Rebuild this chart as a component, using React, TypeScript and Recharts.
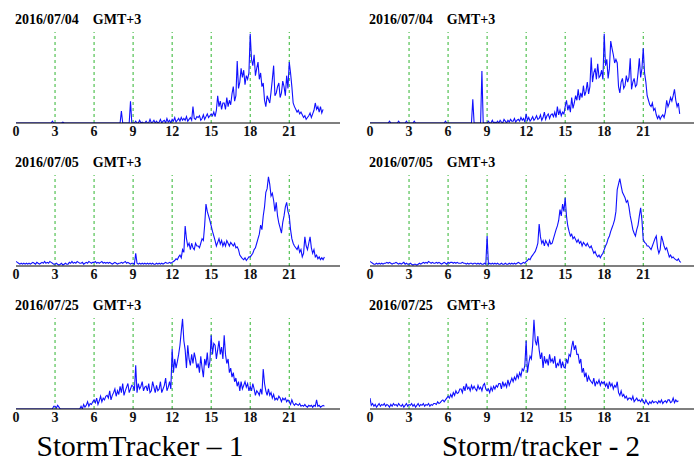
import { LineChart, Line, XAxis, YAxis, ReferenceLine } from "recharts";

// one sample every 0.1 h (6 min), values in % of panel height
const HOUR_TICKS = [0, 3, 6, 9, 12, 15, 18, 21];
const GRID_HOURS = [3, 6, 9, 12, 15, 18, 21];

const st1Jul04 = [
  0, 0, 0, 0, 0, 0, 0, 0, 0, 0, 0, 0, 0, 0, 0, 0, 0, 0, 0, 0,
  0, 0, 0, 0, 0, 0, 0, 0, 2, 0, 0, 0, 0, 0, 0, 0, 1, 0, 0, 0,
  0, 0, 0, 0, 0, 0, 0, 0, 0, 0, 0, 0, 0, 0, 0, 0, 0, 0, 0, 0,
  0, 0, 0, 0, 0, 0, 0, 0, 0, 0, 0, 0, 0, 0, 0, 0, 0, 0, 0, 0,
  0, 13, 0, 0, 0, 0, 0, 0, 24, 0, 0, 0, 2, 0, 0, 3, 0, 1, 0, 0,
  2, 0, 0, 4, 0, 1, 3, 0, 2, 0, 1, 4, 0, 2, 3, 0, 5, 1, 3, 0,
  4, 2, 6, 1, 3, 5, 2, 6, 3, 5, 3, 7, 2, 4, 6, 3, 18, 5, 4, 7,
  6, 8, 3, 5, 9, 4, 7, 10, 6, 8, 10, 8, 12, 7, 14, 30, 18, 24, 15, 22,
  22, 15, 28, 18, 25, 20, 32, 40, 24, 30, 68, 38, 45, 60, 50, 58, 42, 52, 48, 55,
  98, 70, 63, 75, 52, 60, 67, 48, 55, 40, 44, 25, 18, 30, 26, 22, 34, 48, 63, 30,
  33, 40, 44, 28, 33, 46, 40, 30, 52, 38, 67, 55, 40, 22, 18, 15, 12, 14, 10, 12,
  9, 6, 8, 4, 6, 8, 11, 6, 10, 14, 22, 15, 18, 12, 18, 11, 15,
];
const st2Jul04 = [
  0, 0, 0, 0, 0, 0, 0, 0, 0, 0, 0, 0, 0, 0, 0, 2, 0, 0, 0, 0,
  0, 0, 2, 0, 0, 0, 0, 0, 2, 0, 0, 0, 0, 0, 2, 0, 0, 0, 0, 0,
  0, 0, 0, 0, 0, 0, 0, 0, 0, 0, 0, 0, 0, 0, 0, 0, 0, 0, 2, 0,
  0, 0, 0, 0, 0, 0, 0, 0, 0, 0, 0, 0, 0, 0, 0, 0, 0, 0, 0, 26,
  0, 0, 0, 0, 0, 0, 57, 0, 0, 0, 0, 2, 0, 0, 3, 0, 1, 0, 2, 0,
  3, 1, 0, 4, 2, 0, 3, 1, 4, 2, 2, 5, 1, 3, 4, 2, 6, 3, 5, 1,
  10, 3, 6, 2, 4, 7, 3, 5, 8, 4, 5, 9, 3, 6, 12, 4, 8, 10, 5, 9,
  10, 7, 12, 6, 18, 9, 14, 8, 12, 10, 18, 25, 14, 20, 12, 28, 16, 22, 30, 25,
  37, 25, 33, 28, 41, 30, 35, 45, 32, 40, 72, 45, 55, 60, 48, 65, 50, 52, 58, 48,
  98, 63, 70, 49, 60, 90, 82, 75, 66, 70, 66, 40, 33, 45, 49, 38, 41, 52, 45, 50,
  71, 37, 45, 49, 40, 42, 55, 71, 50, 60, 82, 55, 45, 30, 25, 20, 18, 22, 14, 16,
  9, 5, 8, 4, 7, 9, 6, 12, 25, 18, 22, 28, 24, 30, 37, 25, 18, 22, 10,
];
const st1Jul05 = [
  5, 4, 3, 2, 3, 2, 3, 2, 3, 2, 3, 2, 3, 4, 3, 2, 4, 3, 2, 3,
  4, 3, 5, 3, 4, 3, 5, 4, 3, 2, 2, 3, 2, 1, 2, 3, 1, 2, 3, 2,
  2, 4, 3, 5, 3, 4, 3, 5, 4, 3, 3, 4, 2, 3, 4, 3, 5, 4, 3, 4,
  4, 5, 3, 4, 3, 4, 5, 3, 4, 3, 4, 3, 4, 3, 2, 3, 4, 3, 2, 3,
  3, 4, 3, 4, 5, 3, 4, 3, 2, 3, 3, 2, 14, 3, 2, 3, 2, 3, 2, 3,
  2, 3, 2, 3, 2, 3, 2, 2, 3, 2, 3, 2, 3, 2, 3, 4, 3, 3, 4, 3,
  4, 5, 6, 8, 7, 10, 12, 9, 18, 15, 44, 30, 22, 25, 18, 25, 20, 18, 25, 22,
  22, 20, 25, 30, 28, 45, 68, 60, 55, 50, 44, 38, 33, 28, 22, 26, 30, 24, 28, 22,
  26, 22, 28, 25, 22, 26, 24, 22, 25, 20, 21, 18, 12, 10, 8, 7, 9, 6, 8, 10,
  10, 12, 14, 18, 20, 25, 30, 35, 45, 40, 55, 65, 81, 85, 98, 90, 77, 80, 72, 60,
  70, 55, 47, 42, 36, 48, 55, 65, 70, 60, 55, 40, 30, 25, 22, 20, 18, 22, 15, 18,
  10, 14, 32, 22, 18, 25, 32, 20, 14, 18, 10, 12, 8, 10, 7, 9, 7, 10,
];
const st2Jul05 = [
  5, 4, 3, 2, 2, 3, 2, 3, 2, 3, 2, 3, 3, 4, 3, 4, 3, 2, 3, 3,
  4, 3, 2, 3, 2, 3, 4, 2, 3, 2, 2, 3, 2, 1, 2, 2, 1, 2, 3, 2,
  3, 4, 3, 4, 3, 5, 4, 3, 4, 3, 3, 4, 3, 4, 3, 2, 3, 4, 3, 2,
  4, 3, 4, 4, 3, 4, 3, 4, 3, 3, 3, 4, 3, 3, 2, 3, 2, 3, 3, 2,
  3, 3, 2, 3, 2, 3, 2, 2, 3, 2, 33, 2, 3, 2, 3, 2, 3, 2, 3, 2,
  2, 3, 2, 2, 3, 2, 2, 3, 2, 3, 2, 3, 2, 3, 4, 3, 2, 3, 4, 3,
  5, 6, 8, 7, 10, 12, 14, 16, 20, 25, 46, 32, 25, 28, 22, 28, 25, 22, 28, 24,
  25, 30, 35, 40, 44, 50, 62, 55, 68, 60, 75, 55, 44, 38, 33, 35, 30, 32, 29, 26,
  29, 25, 27, 22, 26, 24, 22, 25, 22, 20, 22, 18, 14, 16, 12, 10, 12, 9, 12, 14,
  18, 22, 25, 30, 33, 38, 42, 46, 51, 60, 84, 90, 96, 88, 81, 78, 75, 70, 72, 65,
  55, 48, 40, 36, 33, 40, 45, 55, 64, 50, 29, 26, 25, 22, 22, 20, 18, 22, 26, 30,
  33, 20, 14, 18, 33, 28, 22, 18, 20, 15, 10, 12, 9, 10, 8, 7, 6, 8, 5, 4,
];
const st1Jul25 = [
  0, 0, 0, 0, 0, 0, 0, 0, 0, 0, 0, 0, 0, 0, 0, 0, 0, 0, 0, 0,
  0, 0, 0, 0, 0, 0, 0, 0, 0, 3, 3, 1, 4, 2, 0, 0, 0, 0, 0, 0,
  0, 0, 0, 0, 0, 0, 0, 0, 0, 0, 3, 0, 5, 2, 4, 8, 3, 6, 5, 8,
  10, 7, 12, 5, 9, 14, 8, 12, 10, 14, 15, 12, 20, 10, 15, 18, 22, 14, 20, 16,
  25, 18, 28, 15, 20, 24, 28, 18, 22, 26, 25, 20, 48, 18, 28, 22, 25, 30, 20, 24,
  25, 20, 28, 18, 20, 30, 24, 18, 26, 20, 22, 30, 18, 22, 26, 34, 20, 24, 30, 22,
  66, 40, 55, 45, 52, 60, 70, 85, 99, 75, 65, 45, 70, 55, 48, 60, 50, 62, 55, 45,
  50, 40, 58, 45, 35, 55, 48, 62, 45, 52, 81, 60, 72, 70, 55, 65, 75, 60, 68, 55,
  81, 60, 50, 55, 40, 45, 35, 40, 30, 34, 25, 30, 20, 30, 22, 26, 30, 24, 28, 20,
  25, 20, 28, 22, 15, 20, 18, 15, 22, 16, 44, 28, 20, 15, 22, 15, 18, 12, 16, 10,
  12, 10, 14, 12, 8, 12, 10, 12, 8, 10, 8, 5, 10, 6, 4, 6, 5, 4, 6, 3,
  4, 3, 5, 3, 2, 4, 3, 4, 2, 4, 3, 10, 3, 4, 2, 3, 4, 3,
];
const st2Jul25 = [
  12, 4, 6, 3, 5, 2, 4, 6, 3, 5, 4, 6, 3, 5, 4, 2, 5, 3, 6, 4,
  5, 3, 6, 4, 3, 5, 2, 4, 6, 3, 5, 4, 6, 3, 5, 2, 4, 6, 3, 5,
  4, 6, 3, 5, 4, 6, 3, 5, 4, 6, 6, 5, 8, 6, 7, 9, 10, 8, 10, 12,
  14, 12, 16, 13, 18, 15, 20, 17, 18, 22, 22, 18, 25, 20, 28, 22, 24, 20, 26, 22,
  25, 22, 20, 26, 22, 24, 20, 26, 28, 22, 20, 22, 18, 24, 20, 25, 22, 26, 24, 28,
  28, 22, 30, 25, 28, 24, 32, 26, 30, 34, 30, 35, 32, 38, 34, 40, 36, 44, 42, 48,
  75, 40, 50, 58, 55, 70, 98, 75, 70, 80, 65, 55, 62, 45, 58, 50, 55, 48, 60, 52,
  55, 50, 58, 45, 50, 48, 55, 45, 52, 46, 45, 55, 50, 60, 58, 68, 75, 65, 70, 60,
  60, 50, 55, 40, 45, 35, 40, 30, 36, 32, 30, 28, 34, 25, 30, 28, 32, 26, 30, 28,
  30, 25, 28, 22, 30, 25, 28, 22, 26, 24, 30, 18, 15, 20, 14, 16, 12, 14, 10, 12,
  12, 10, 14, 8, 10, 12, 9, 10, 8, 11, 8, 6, 10, 7, 5, 8, 6, 9, 7, 8,
  8, 6, 9, 7, 10, 6, 8, 9, 7, 10, 10, 7, 8, 12, 7, 10, 8, 9,
];

const toRows = (vals: number[]) => vals.map((v, i) => ({ h: +(i * 0.1).toFixed(1), v }));

const SERIF = '"Liberation Serif", "Times New Roman", serif';

const PANELS = [
  { title: "2016/07/04", col: 0, row: 0, vals: st1Jul04 },
  { title: "2016/07/04", col: 1, row: 0, vals: st2Jul04 },
  { title: "2016/07/05", col: 0, row: 1, vals: st1Jul05 },
  { title: "2016/07/05", col: 1, row: 1, vals: st2Jul05 },
  { title: "2016/07/25", col: 0, row: 2, vals: st1Jul25 },
  { title: "2016/07/25", col: 1, row: 2, vals: st2Jul25 },
];

function Panel({ title, col, row, vals }: { title: string; col: number; row: number; vals: number[] }) {
  const left = col === 0 ? 0 : 354;
  const plotTop = 32 + row * 143;
  return (
    <>
      <div
        style={{
          position: "absolute",
          left: left + 15,
          top: plotTop - 19,
          fontFamily: SERIF,
          fontWeight: "bold",
          fontSize: 14,
          lineHeight: "14px",
          whiteSpace: "pre",
        }}
      >
        {title + "    GMT+3"}
      </div>
      <div style={{ position: "absolute", left, top: plotTop - 4 }}>
        <LineChart width={345} height={117} data={toRows(vals)} margin={{ top: 4, right: 5, bottom: 0, left: 16 }}>
          <XAxis
            dataKey="h"
            type="number"
            domain={[0, 24.9]}
            ticks={HOUR_TICKS}
            allowDataOverflow
            axisLine={{ stroke: "#000", strokeWidth: 1.2 }}
            tickLine={false}
            tickSize={2}
            tickMargin={1}
            height={22}
            tick={{ fontFamily: SERIF, fontWeight: "bold", fontSize: 14, fill: "#111" }}
          />
          <YAxis
            domain={[0, 100]}
            allowDataOverflow
            tick={false}
            tickLine={false}
            width={0}
            axisLine={{ stroke: "#333", strokeWidth: 1.2 }}
          />
          {GRID_HOURS.map((hr) => (
            <ReferenceLine key={hr} x={hr} stroke="#2fb52f" strokeDasharray="3 3" />
          ))}
          <Line
            type="linear"
            dataKey="v"
            stroke="#1010ff"
            strokeWidth={1.1}
            dot={false}
            isAnimationActive={false}
          />
        </LineChart>
      </div>
    </>
  );
}

export default function App() {
  return (
    <div style={{ position: "absolute", left: 0, top: 0, width: 695, height: 461, background: "#fff", overflow: "hidden" }}>
      {PANELS.map((p, i) => (
        <Panel key={i} {...p} />
      ))}
      <div style={{ position: "absolute", left: 0, width: 280, top: 430, textAlign: "center", fontFamily: SERIF, fontSize: 29.5, lineHeight: "32px" }}>
        StormTracker – 1
      </div>
      <div style={{ position: "absolute", left: 400, width: 282, top: 430, textAlign: "center", fontFamily: SERIF, fontSize: 29, lineHeight: "32px" }}>
        Storm/tracker - 2
      </div>
    </div>
  );
}
